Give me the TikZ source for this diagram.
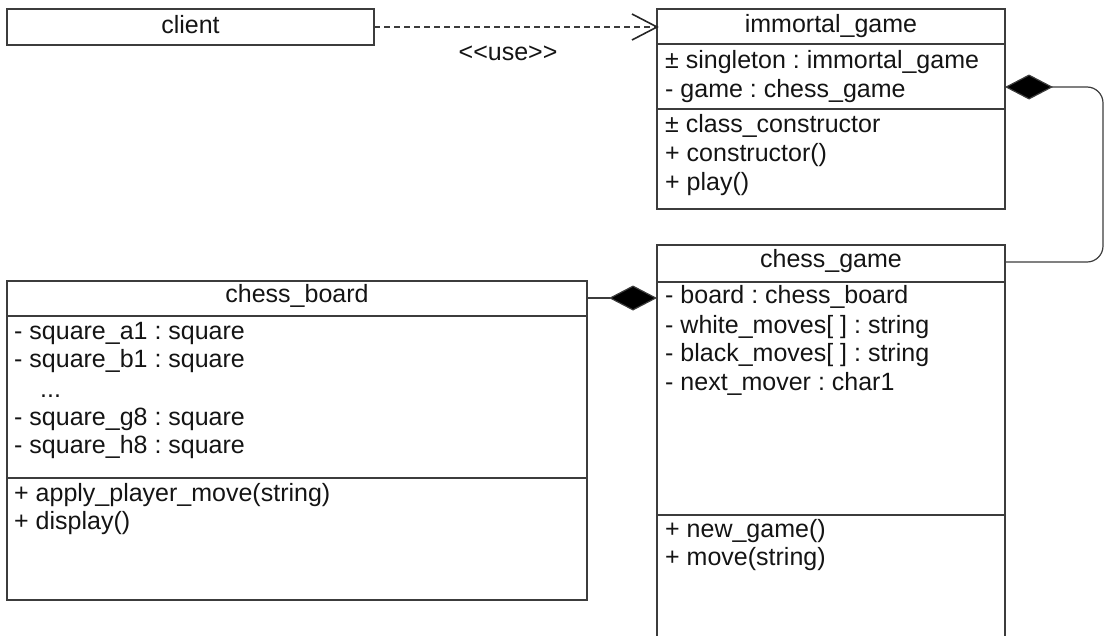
\documentclass[tikz,border=0pt]{standalone}
\usepackage{fontspec}
\newfontfamily\umlfont{Liberation Sans}
\usetikzlibrary{arrows.meta,calc}
\definecolor{umlline}{HTML}{3C3C3C}
\definecolor{umltext}{HTML}{141414}
\tikzset{
  classbox/.style={draw=umlline, line width=1.3pt, rectangle, anchor=north west, inner sep=0pt, outer sep=0pt},
  sepline/.style={draw=umlline, line width=1.1pt},
  memb/.style={anchor=base west, inner sep=0pt, text=umltext, font=\umlfont\frenchspacing\fontsize{25}{28}\selectfont},
  hdr/.style={anchor=base, inner sep=0pt, text=umltext, font=\umlfont\frenchspacing\fontsize{25}{28}\selectfont},
  conn/.style={draw=umlline, line width=1.2pt},
  usedep/.style={conn, dash pattern=on 6pt off 4pt},
  openhead/.style={draw=black!85, line width=1.6pt, line join=miter},
  compos/.style={conn, -{Diamond[length=48pt,width=25pt,fill=black]}}
}
\begin{document}
\begin{tikzpicture}[x=1pt,y=-1pt]
\useasboundingbox (0,0) rectangle (1108,635);
\clip (0,0) rectangle (1108,635);

% client
\node[classbox, minimum width=367pt, minimum height=36pt] (client) at (7,9) {};
\node[hdr] (clientT) at (190.5,33) {client};

% immortal_game
\node[classbox, minimum width=348pt, minimum height=200pt] (imm) at (657,9) {};
\draw[sepline] ($(imm.north west)+(0,35)$) -- ($(imm.north east)+(0,35)$);
\draw[sepline] ($(imm.north west)+(0,100)$) -- ($(imm.north east)+(0,100)$);
\node[hdr] (immT) at (831,32) {immortal\_game};
\node[memb] (imm1) at (665,68) {± singleton : immortal\_game};
\node[memb] (imm2) at (665,97) {- game : chess\_game};
\node[memb] (imm3) at (665,132) {± class\_constructor};
\node[memb] (imm4) at (665,161) {+ constructor()};
\node[memb] (imm5) at (665,190) {+ play()};

% chess_game
\node[classbox, minimum width=348pt, minimum height=400pt] (cg) at (657,245) {};
\draw[sepline] ($(cg.north west)+(0,37)$) -- ($(cg.north east)+(0,37)$);
\draw[sepline] ($(cg.north west)+(0,270)$) -- ($(cg.north east)+(0,270)$);
\node[hdr] (cgT) at (831,267) {chess\_game};
\node[memb] (cg1) at (665,303) {- board : chess\_board};
\node[memb] (cg2) at (665,333) {- white\_moves[ ] : string};
\node[memb] (cg3) at (665,361) {- black\_moves[ ] : string};
\node[memb] (cg4) at (665,390) {- next\_mover : char1};
\node[memb] (cg5) at (665,537) {+ new\_game()};
\node[memb] (cg6) at (665,565) {+ move(string)};

% chess_board
\node[classbox, minimum width=580pt, minimum height=319pt] (cb) at (7,281) {};
\draw[sepline] ($(cb.north west)+(0,35)$) -- ($(cb.north east)+(0,35)$);
\draw[sepline] ($(cb.north west)+(0,197)$) -- ($(cb.north east)+(0,197)$);
\node[hdr] (cbT) at (297,302) {chess\_board};
\node[memb] (cb1) at (14,339) {- square\_a1 : square};
\node[memb] (cb2) at (14,367) {- square\_b1 : square};
\node[memb] (cb3) at (40,397) {...};
\node[memb] (cb4) at (14,425) {- square\_g8 : square};
\node[memb] (cb5) at (14,453) {- square\_h8 : square};
\node[memb] (cb6) at (14,501) {+ apply\_player\_move(string)};
\node[memb] (cb7) at (14,529) {+ display()};

% connectors
\coordinate (usetip) at (client.east -| imm.west);
\draw[usedep] (client.east) -- (usetip);
\draw[openhead] ($(usetip)+(-25,-13)$) -- (usetip) -- ($(usetip)+(-25,13)$);
\node[hdr] (useL) at (508,60) {<<use>>};

\coordinate (impt) at ($(imm.north east)+(0,78)$);
\coordinate (cgpt) at ($(cg.north east)+(0,17)$);
\draw[compos, rounded corners=16pt] (cgpt) -- ++(98,0) |- (impt);

\coordinate (cbpt) at ($(cb.north east)+(0,17)$);
\draw[compos] (cbpt) -- (cbpt -| cg.west);
\end{tikzpicture}
\end{document}
